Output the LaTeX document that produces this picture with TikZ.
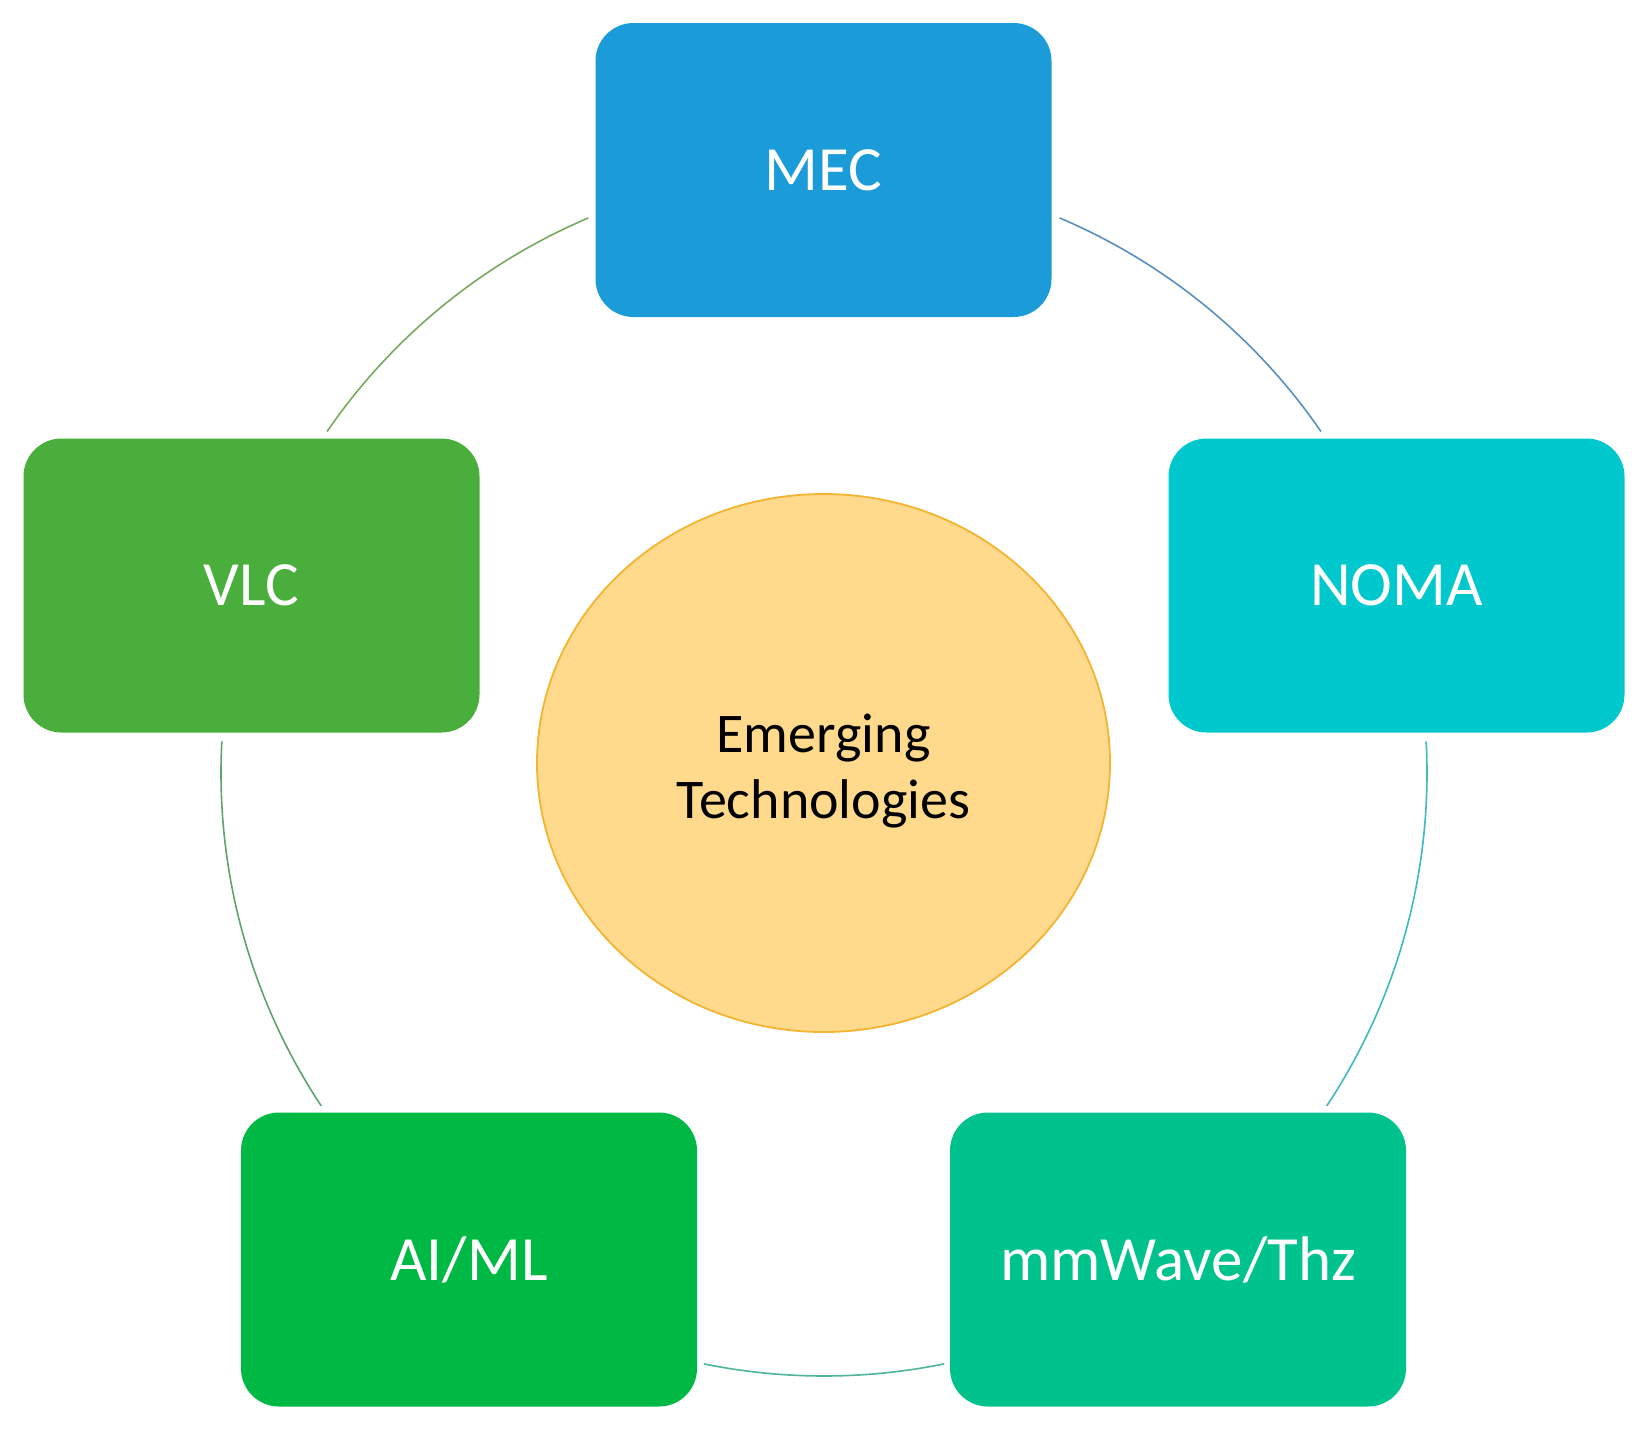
\documentclass[tikz,border=0pt]{standalone}
\usepackage{fontspec}
\setmainfont{Carlito}
\usetikzlibrary{shapes.geometric}
\definecolor{cMEC}{HTML}{1B9BD7}
\definecolor{cNOMA}{HTML}{00C8CC}
\definecolor{cMMW}{HTML}{00C28C}
\definecolor{cAIML}{HTML}{00B944}
\definecolor{cVLC}{HTML}{4AAE3C}
\definecolor{cCore}{HTML}{FFD98C}
\definecolor{cCoreLine}{HTML}{F3B432}
\definecolor{aMEC}{HTML}{5B8EC0}
\definecolor{aNOMA}{HTML}{3EB9C2}
\definecolor{aMMW}{HTML}{4DB39A}
\definecolor{aAIML}{HTML}{5FA46A}
\definecolor{aVLC}{HTML}{79A860}
\tikzset{
  techbox/.style={rectangle, rounded corners=19pt, minimum width=228pt, minimum height=147pt,
    inner sep=0pt, text=white, font=\fontsize{31.5}{36}\selectfont},
  corenode/.style={ellipse, minimum width=286.5pt, minimum height=269pt, inner sep=0pt,
    fill=cCore, draw=cCoreLine, line width=0.9pt},
  coretext/.style={align=center, inner sep=0pt, font=\fontsize{28}{33}\selectfont, text=black},
  ringarc/.style={line width=0.8pt}
}
\begin{document}
\begin{tikzpicture}[x=0.5pt,y=-0.5pt]
\useasboundingbox (0,0) rectangle (1640,1437);
\coordinate (ring) at (824,773);
% boxes
\node[techbox, fill=cMEC]  (mec)  at (823.5,170)   {MEC};
\node[techbox, fill=cNOMA] (noma) at (1396.5,585.5) {NOMA};
\node[techbox, fill=cMMW]  (mmw)  at (1178,1259.5)  {mmWave/Thz};
\node[techbox, fill=cAIML] (aiml) at (469,1259.5)   {AI/ML};
\node[techbox, fill=cVLC]  (vlc)  at (251.5,585.5)  {VLC};
% center
\node[corenode] (core) at (823.5,763) {};
\node[coretext] (corelabel) at ([yshift=-4pt]core.center) {Emerging\\Technologies};
% ring arcs between the boxes
\draw[ringarc, aMEC]  ([shift={(67:301.5pt)}]ring)    arc[start angle=67,    end angle=34.5,  radius=301.5pt];
\draw[ringarc, aNOMA] ([shift={(3:301.5pt)}]ring)     arc[start angle=3,     end angle=-33.5, radius=301.5pt];
\draw[ringarc, aMMW]  ([shift={(-78.5:301.5pt)}]ring) arc[start angle=-78.5, end angle=-101.5,radius=301.5pt];
\draw[ringarc, aAIML] ([shift={(-146.5:301.5pt)}]ring) arc[start angle=-146.5,end angle=-183, radius=301.5pt];
\draw[ringarc, aVLC]  ([shift={(145.5:301.5pt)}]ring) arc[start angle=145.5, end angle=113,   radius=301.5pt];
\end{tikzpicture}
\end{document}
